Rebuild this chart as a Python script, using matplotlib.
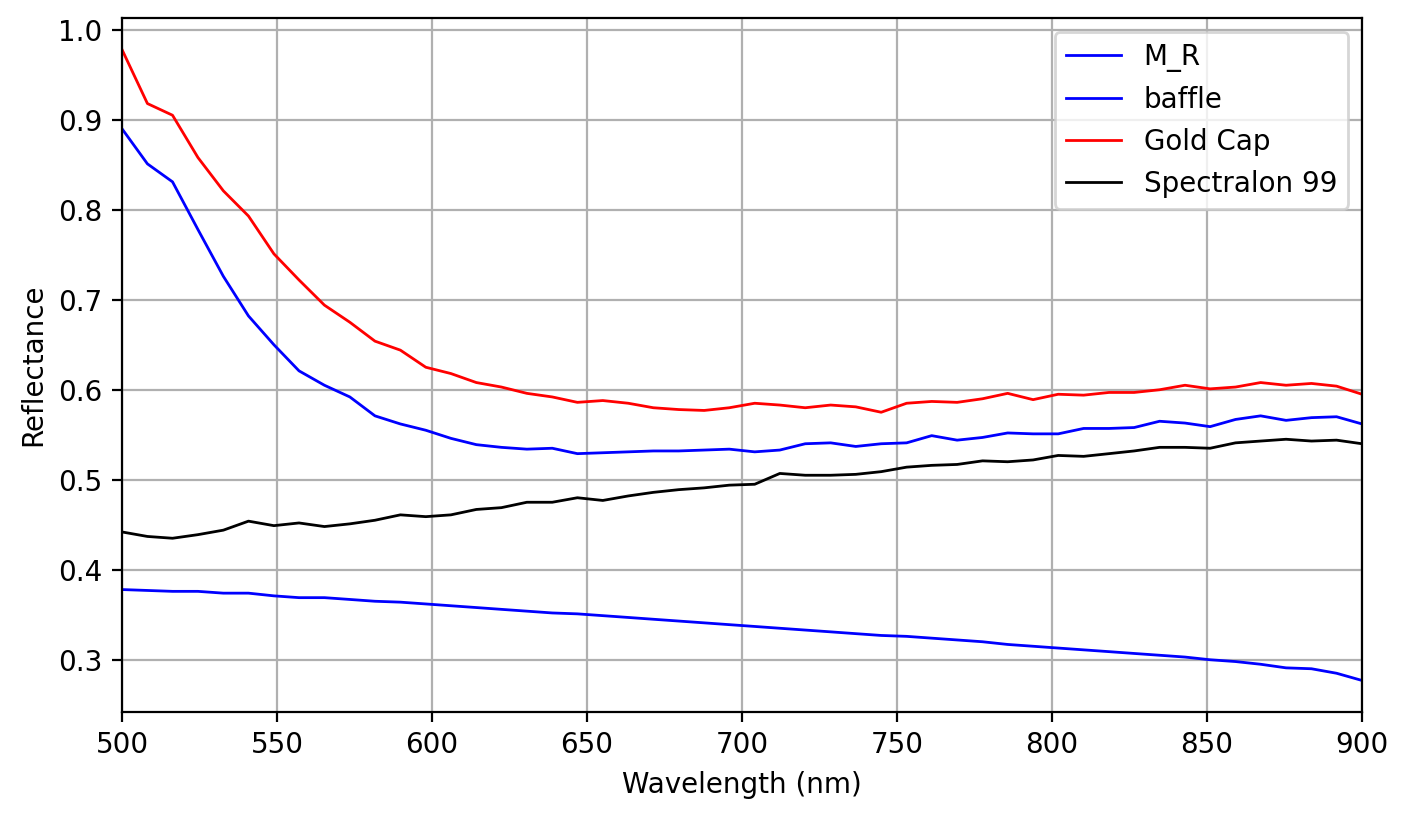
import matplotlib
matplotlib.use("Agg")
import matplotlib.pyplot as plt

# Longitudes de onda (nm)
wavelength = [500.0, 508.2, 516.3, 524.5, 532.7, 540.8, 549.0, 557.1, 565.3, 573.5,
              581.6, 589.8, 598.0, 606.1, 614.3, 622.4, 630.6, 638.8, 646.9, 655.1,
              663.3, 671.4, 679.6, 687.8, 695.9, 704.1, 712.2, 720.4, 728.6, 736.7,
              744.9, 753.1, 761.2, 769.4, 777.6, 785.7, 793.9, 802.0, 810.2, 818.4,
              826.5, 834.7, 842.9, 851.0, 859.2, 867.3, 875.5, 883.7, 891.8, 900.0]

m_r = [0.890, 0.851, 0.831, 0.778, 0.726, 0.682, 0.650, 0.621, 0.605, 0.592,
       0.571, 0.562, 0.555, 0.546, 0.539, 0.536, 0.534, 0.535, 0.529, 0.530,
       0.531, 0.532, 0.532, 0.533, 0.534, 0.531, 0.533, 0.540, 0.541, 0.537,
       0.540, 0.541, 0.549, 0.544, 0.547, 0.552, 0.551, 0.551, 0.557, 0.557,
       0.558, 0.565, 0.563, 0.559, 0.567, 0.571, 0.566, 0.569, 0.570, 0.562]

baffle = [0.378, 0.377, 0.376, 0.376, 0.374, 0.374, 0.371, 0.369, 0.369, 0.367,
          0.365, 0.364, 0.362, 0.360, 0.358, 0.356, 0.354, 0.352, 0.351, 0.349,
          0.347, 0.345, 0.343, 0.341, 0.339, 0.337, 0.335, 0.333, 0.331, 0.329,
          0.327, 0.326, 0.324, 0.322, 0.320, 0.317, 0.315, 0.313, 0.311, 0.309,
          0.307, 0.305, 0.303, 0.300, 0.298, 0.295, 0.291, 0.290, 0.285, 0.277]

gold_cap = [0.978, 0.918, 0.905, 0.858, 0.821, 0.793, 0.751, 0.722, 0.694, 0.675,
            0.654, 0.644, 0.625, 0.618, 0.608, 0.603, 0.596, 0.592, 0.586, 0.588,
            0.585, 0.580, 0.578, 0.577, 0.580, 0.585, 0.583, 0.580, 0.583, 0.581,
            0.575, 0.585, 0.587, 0.586, 0.590, 0.596, 0.589, 0.595, 0.594, 0.597,
            0.597, 0.600, 0.605, 0.601, 0.603, 0.608, 0.605, 0.607, 0.604, 0.595]

spectralon = [0.442, 0.437, 0.435, 0.439, 0.444, 0.454, 0.449, 0.452, 0.448, 0.451,
              0.455, 0.461, 0.459, 0.461, 0.467, 0.469, 0.475, 0.475, 0.480, 0.477,
              0.482, 0.486, 0.489, 0.491, 0.494, 0.495, 0.507, 0.505, 0.505, 0.506,
              0.509, 0.514, 0.516, 0.517, 0.521, 0.520, 0.522, 0.527, 0.526, 0.529,
              0.532, 0.536, 0.536, 0.535, 0.541, 0.543, 0.545, 0.543, 0.544, 0.540]

fig = plt.figure(figsize=(1409 / 200, 819 / 200), dpi=200)
ax = fig.add_axes([122 / 1409, 1 - 712 / 819, (1362 - 122) / 1409, (712 - 18) / 819])

ax.plot(wavelength, m_r, color="blue", linewidth=1, label="M_R")
ax.plot(wavelength, baffle, color="blue", linewidth=1, label="baffle")
ax.plot(wavelength, gold_cap, color="red", linewidth=1, label="Gold Cap")
ax.plot(wavelength, spectralon, color="black", linewidth=1, label="Spectralon 99")

ax.set_xlim(500, 900)
ax.set_xlabel("Wavelength (nm)")
ax.set_ylabel("Reflectance")
ax.grid(True)
ax.legend(loc="upper right")

fig.savefig("out.png", dpi=200)
